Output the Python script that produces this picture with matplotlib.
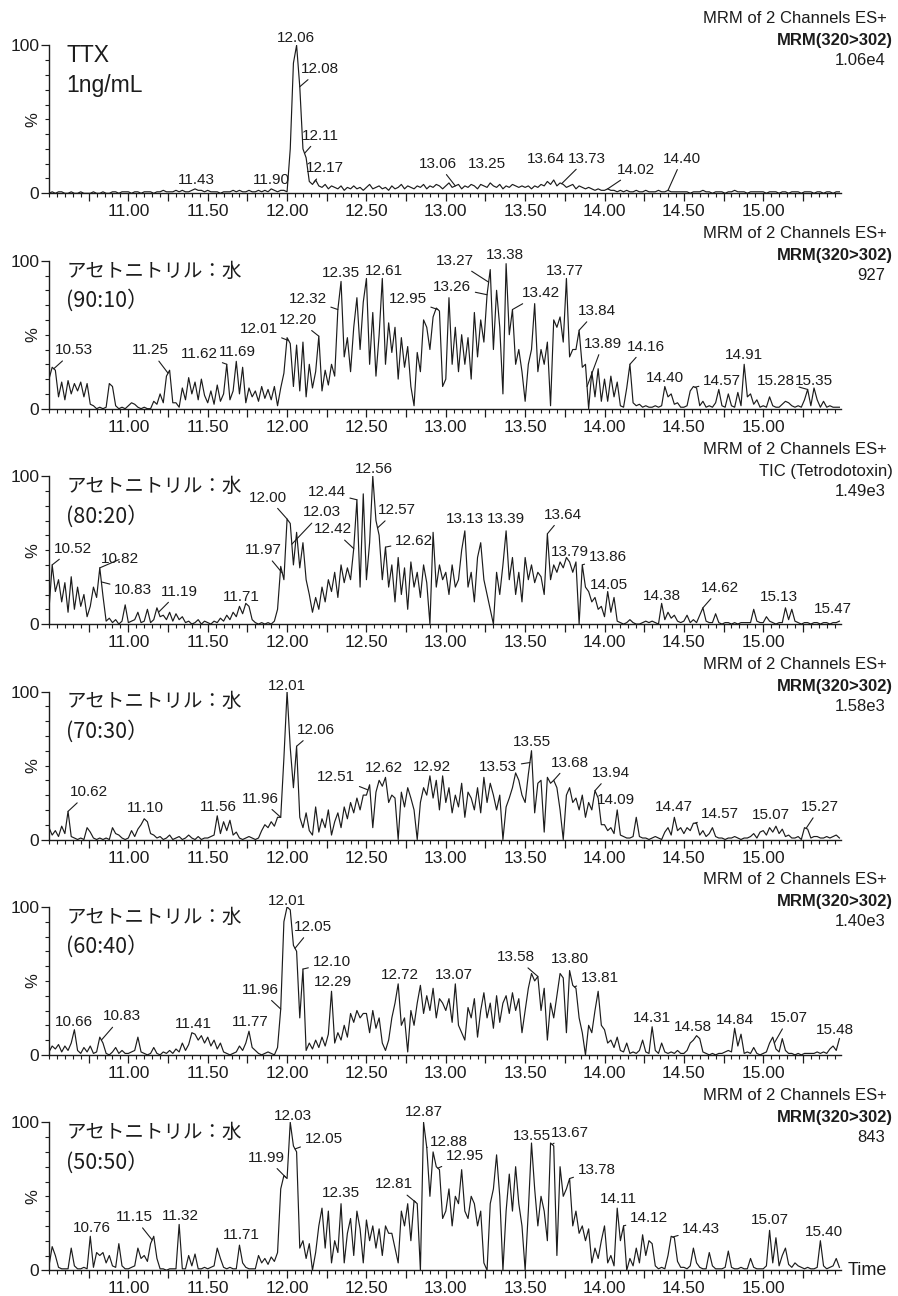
import numpy as np
import matplotlib.pyplot as plt
from matplotlib.ticker import MultipleLocator, FixedLocator, FuncFormatter

plt.rcParams['font.family'] = ['Liberation Sans', 'DejaVu Sans']
JP_FONT = ['Noto Sans CJK JP', 'DejaVu Sans']

T_START = 10.50
T_STEP = 0.02

# relative intensity (%), one sample every 0.02 min from 10.50, each row = 0.5 min
trace_ttx = [
    [0, 1, 0, 1, 1, 0, 0, 1, 0, 0, 1, 0, 0, 0, 1, 0, 0, 1, 0, 0, 1, 1, 0, 1, 1],
    [1, 0, 1, 1, 0, 1, 1, 1, 0, 1, 1, 2, 1, 1, 1, 2, 1, 2, 1, 1, 2, 3, 2, 2, 1],
    [2, 1, 1, 1, 0, 1, 1, 1, 2, 1, 2, 1, 1, 2, 1, 1, 2, 1, 2, 1, 3, 2, 1, 2, 2],
    [1, 30, 88, 100, 72, 30, 24, 8, 6, 9, 5, 4, 6, 3, 5, 4, 3, 5, 2, 4, 3, 5, 3, 4, 2],
    [4, 6, 3, 4, 5, 3, 4, 2, 5, 3, 4, 6, 3, 5, 4, 3, 5, 4, 6, 3, 5, 4, 6, 5, 3],
    [5, 7, 4, 5, 6, 3, 5, 4, 6, 5, 3, 6, 5, 4, 7, 5, 4, 6, 3, 5, 4, 6, 5, 4, 5],
    [4, 5, 3, 5, 4, 6, 5, 8, 6, 9, 5, 7, 6, 4, 5, 6, 3, 5, 4, 3, 4, 3, 2, 3, 2],
    [2, 3, 2, 2, 1, 2, 1, 2, 1, 1, 2, 1, 1, 2, 1, 1, 1, 2, 1, 1, 2, 1, 1, 1, 1],
    [1, 1, 0, 1, 1, 1, 2, 1, 1, 0, 1, 1, 1, 0, 1, 1, 2, 1, 1, 1, 0, 1, 1, 1, 1],
    [1, 0, 1, 1, 1, 0, 1, 1, 0, 1, 1, 1, 0, 1, 1, 1, 0, 1, 1, 0, 1, 1, 0, 1, 1],
]
trace_90_10 = [
    [20, 28, 26, 8, 18, 6, 19, 10, 17, 12, 18, 8, 17, 3, 2, 0, 1, 0, 1, 17, 15, 2, 0, 1, 0],
    [2, 4, 3, 1, 0, 1, 0, 0, 5, 3, 10, 4, 22, 26, 4, 4, 1, 14, 6, 21, 10, 18, 6, 20, 9],
    [4, 12, 3, 16, 5, 10, 30, 6, 12, 32, 10, 28, 4, 14, 8, 12, 5, 15, 7, 13, 6, 15, 2, 14, 24],
    [48, 44, 15, 43, 12, 45, 8, 30, 14, 25, 49, 12, 26, 16, 30, 22, 67, 86, 35, 48, 25, 55, 75, 40, 72],
    [88, 30, 65, 22, 50, 88, 30, 58, 38, 55, 20, 48, 28, 42, 15, 2, 38, 25, 60, 55, 40, 62, 68, 66, 15],
    [20, 75, 30, 55, 25, 50, 30, 48, 20, 65, 35, 60, 45, 77, 94, 40, 80, 55, 10, 98, 50, 67, 30, 40, 25],
    [5, 30, 40, 71, 25, 40, 30, 45, 2, 60, 55, 62, 45, 88, 35, 40, 40, 53, 28, 30, 0, 25, 8, 27, 5],
    [20, 5, 22, 8, 18, 2, 1, 14, 30, 4, 2, 3, 1, 2, 1, 1, 2, 1, 2, 15, 8, 10, 3, 4, 1],
    [1, 2, 12, 15, 14, 2, 5, 1, 2, 1, 4, 13, 2, 1, 10, 2, 1, 11, 2, 30, 8, 10, 3, 6, 1],
    [2, 1, 8, 2, 1, 1, 3, 5, 4, 2, 1, 2, 1, 6, 13, 2, 14, 6, 1, 5, 1, 2, 1, 1, 1],
]
trace_80_20 = [
    [10, 40, 22, 30, 15, 28, 8, 32, 10, 25, 12, 20, 5, 12, 25, 18, 38, 19, 2, 4, 1, 3, 0, 2, 13],
    [1, 2, 3, 8, 1, 2, 10, 1, 3, 11, 5, 6, 3, 8, 2, 7, 3, 5, 1, 2, 0, 1, 3, 0, 2],
    [1, 0, 2, 1, 4, 2, 6, 3, 8, 5, 12, 7, 14, 12, 3, 1, 0, 1, 0, 1, 0, 2, 10, 39, 30],
    [71, 68, 40, 62, 38, 55, 30, 20, 8, 18, 10, 25, 15, 30, 22, 35, 18, 40, 28, 38, 30, 51, 84, 25, 88],
    [30, 55, 100, 70, 60, 30, 52, 25, 40, 15, 45, 20, 38, 10, 42, 25, 35, 18, 40, 28, 0, 62, 25, 40, 30],
    [35, 20, 40, 25, 30, 50, 63, 25, 35, 15, 45, 55, 30, 20, 10, 0, 35, 20, 40, 63, 30, 45, 20, 35, 15],
    [45, 30, 40, 28, 35, 32, 20, 61, 30, 40, 35, 42, 38, 45, 42, 35, 42, 0, 40, 25, 22, 15, 18, 10, 12],
    [5, 22, 8, 18, 2, 1, 0, 1, 3, 1, 0, 0, 1, 2, 1, 2, 1, 0, 14, 3, 8, 4, 6, 2, 1],
    [2, 6, 1, 3, 1, 6, 11, 2, 1, 1, 7, 1, 0, 1, 1, 0, 1, 0, 1, 1, 1, 1, 10, 2, 1],
    [1, 5, 2, 1, 0, 1, 1, 11, 3, 10, 2, 1, 0, 1, 1, 0, 1, 1, 0, 1, 1, 0, 1, 1, 2],
]
trace_70_30 = [
    [8, 3, 6, 2, 9, 4, 19, 2, 1, 0, 1, 0, 8, 5, 1, 0, 1, 0, 1, 0, 8, 4, 3, 1, 0],
    [1, 6, 2, 7, 10, 14, 12, 4, 3, 1, 2, 0, 1, 3, 0, 1, 2, 0, 1, 3, 1, 0, 2, 0, 1],
    [1, 2, 3, 16, 4, 12, 6, 13, 3, 5, 1, 0, 1, 2, 1, 0, 1, 6, 10, 8, 12, 9, 15, 15, 55],
    [100, 62, 35, 63, 15, 8, 18, 6, 3, 22, 5, 14, 8, 20, 3, 12, 18, 8, 22, 14, 25, 18, 28, 20, 30],
    [30, 37, 8, 32, 40, 36, 42, 25, 30, 28, 0, 32, 22, 35, 28, 20, 0, 25, 35, 30, 43, 28, 40, 20, 43],
    [25, 35, 18, 30, 22, 38, 15, 32, 28, 20, 35, 18, 42, 25, 38, 30, 20, 30, 0, 22, 28, 35, 45, 40, 30],
    [25, 44, 60, 18, 38, 40, 5, 42, 38, 40, 35, 20, 0, 30, 35, 25, 28, 20, 30, 15, 25, 20, 33, 28, 10],
    [10, 6, 8, 4, 20, 3, 2, 1, 1, 2, 15, 2, 1, 1, 0, 1, 2, 1, 0, 5, 8, 3, 15, 6, 8],
    [4, 8, 6, 11, 11, 3, 6, 2, 4, 8, 2, 1, 1, 0, 1, 1, 2, 1, 0, 1, 1, 2, 4, 1, 5],
    [6, 3, 8, 5, 9, 4, 7, 2, 3, 1, 1, 2, 0, 8, 7, 1, 2, 2, 1, 1, 2, 1, 2, 3, 1],
]
trace_60_40 = [
    [2, 6, 4, 7, 2, 6, 3, 8, 17, 3, 1, 5, 2, 6, 1, 2, 12, 8, 1, 0, 2, 5, 1, 3, 1],
    [1, 2, 3, 12, 2, 1, 0, 1, 5, 1, 0, 2, 1, 3, 1, 4, 2, 8, 3, 7, 15, 14, 10, 13, 8],
    [12, 6, 10, 4, 8, 2, 1, 0, 1, 2, 6, 3, 8, 16, 5, 3, 1, 0, 1, 2, 1, 0, 5, 31, 90],
    [100, 98, 74, 70, 25, 58, 3, 8, 4, 10, 5, 12, 6, 14, 43, 8, 15, 10, 20, 12, 28, 22, 30, 25, 28],
    [28, 15, 30, 18, 25, 8, 3, 10, 25, 35, 48, 20, 25, 2, 30, 20, 35, 47, 28, 40, 30, 45, 25, 38, 35],
    [30, 38, 22, 48, 20, 15, 10, 32, 25, 38, 12, 30, 42, 25, 35, 18, 40, 22, 35, 40, 28, 42, 30, 38, 15],
    [30, 45, 55, 50, 53, 30, 45, 10, 35, 25, 40, 55, 52, 15, 57, 47, 45, 25, 15, 0, 20, 15, 30, 43, 20],
    [17, 8, 10, 5, 12, 3, 2, 8, 1, 2, 1, 3, 10, 2, 1, 19, 3, 1, 8, 2, 1, 2, 1, 3, 1],
    [1, 3, 8, 10, 13, 11, 2, 1, 0, 1, 0, 1, 1, 2, 3, 2, 18, 6, 14, 1, 2, 1, 5, 1, 0],
    [1, 2, 8, 12, 4, 2, 11, 3, 1, 1, 0, 1, 0, 1, 1, 1, 1, 2, 1, 2, 1, 4, 6, 3, 11],
]
trace_50_50 = [
    [3, 16, 10, 2, 1, 1, 1, 15, 3, 1, 1, 2, 1, 23, 2, 12, 10, 12, 5, 10, 3, 2, 18, 3, 1],
    [1, 2, 3, 15, 8, 10, 6, 18, 23, 8, 1, 1, 0, 1, 1, 1, 31, 1, 1, 10, 3, 11, 1, 1, 2],
    [1, 2, 3, 15, 8, 2, 1, 2, 1, 1, 17, 5, 2, 1, 1, 1, 10, 5, 8, 4, 9, 6, 12, 55, 64],
    [62, 100, 84, 80, 15, 20, 8, 18, 0, 12, 30, 42, 15, 40, 5, 20, 12, 45, 5, 25, 35, 10, 40, 28, 5],
    [34, 20, 30, 15, 28, 10, 30, 25, 25, 15, 5, 40, 30, 45, 20, 47, 45, 0, 100, 83, 50, 80, 70, 68, 35],
    [40, 55, 30, 50, 45, 68, 40, 35, 50, 45, 30, 40, 5, 0, 45, 55, 78, 50, 0, 40, 65, 40, 70, 45, 30],
    [0, 40, 86, 55, 30, 50, 40, 20, 86, 84, 10, 70, 50, 55, 62, 30, 40, 25, 30, 20, 28, 5, 15, 8, 20],
    [30, 5, 10, 3, 42, 20, 30, 0, 8, 3, 15, 5, 24, 10, 20, 18, 3, 1, 2, 1, 10, 23, 22, 6, 2],
    [2, 1, 3, 15, 5, 2, 1, 1, 12, 3, 1, 1, 1, 2, 13, 2, 1, 1, 2, 1, 1, 8, 2, 1, 1],
    [1, 3, 27, 5, 22, 3, 10, 15, 4, 2, 5, 3, 2, 1, 2, 1, 1, 2, 20, 3, 1, 2, 3, 8, 2],
]

sample_line1 = ['TTX'] + ['アセトニトリル：水'] * 5
sample_line2 = ['1ng/mL', '(90:10）', '(80:20）', '(70:30）', '(60:40）', '(50:50）']
channels = ['MRM(320>302)', 'MRM(320>302)', 'TIC (Tetrodotoxin)',
            'MRM(320>302)', 'MRM(320>302)', 'MRM(320>302)']
scales = ['1.06e4', '927', '1.49e3', '1.58e3', '1.40e3', '843']

# labelled retention times
peaks_ttx = [11.43, 11.90, 12.06, 12.08, 12.11, 12.17, 13.06, 13.25, 13.64, 13.73, 14.02, 14.40]
peaks_90_10 = [10.53, 11.25, 11.62, 11.69, 12.01, 12.20, 12.32, 12.35, 12.61, 12.95, 13.26, 13.27,
               13.38, 13.42, 13.77, 13.84, 13.89, 14.16, 14.40, 14.57, 14.91, 15.28, 15.35]
peaks_80_20 = [10.52, 10.82, 10.83, 11.19, 11.71, 11.97, 12.00, 12.03, 12.42, 12.44, 12.56, 12.57,
               12.62, 13.13, 13.39, 13.64, 13.79, 13.86, 14.05, 14.38, 14.62, 15.13, 15.47]
peaks_70_30 = [10.62, 11.10, 11.56, 11.96, 12.01, 12.06, 12.51, 12.62, 12.92, 13.53, 13.55, 13.68,
               13.94, 14.09, 14.47, 14.57, 15.07, 15.27]
peaks_60_40 = [10.66, 10.83, 11.41, 11.77, 11.96, 12.01, 12.05, 12.10, 12.29, 12.72, 13.07, 13.58,
               13.80, 13.81, 14.31, 14.58, 14.84, 15.07, 15.48]
peaks_50_50 = [10.76, 11.15, 11.32, 11.71, 11.99, 12.03, 12.05, 12.35, 12.81, 12.87, 12.88, 12.95,
               13.55, 13.67, 13.78, 14.11, 14.12, 14.43, 15.07, 15.40]

# label placement: (text x, text y %, leader line)
place_ttx = [(11.43, 9, 0), (11.90, 9, 0), (12.056, 105, 0), (12.21, 84, 1), (12.21, 39, 1),
             (12.24, 17, 1), (12.95, 20, 1), (13.26, 20, 0), (13.63, 23.5, 0), (13.89, 23.5, 1),
             (14.20, 16, 1), (14.49, 23.5, 1)]
place_90_10 = [(10.66, 39.5, 1), (11.14, 39.5, 1), (11.45, 36.7, 1), (11.69, 38, 0), (11.82, 54, 1),
               (12.07, 60, 1), (12.13, 74, 1), (12.34, 92, 0), (12.61, 93, 0), (12.76, 74, 1),
               (13.04, 82, 1), (13.06, 100, 1), (13.37, 104, 0), (13.60, 78, 1), (13.75, 93, 0),
               (13.95, 66, 1), (13.99, 44, 1), (14.26, 42, 1), (14.38, 21, 0), (14.74, 19, 1),
               (14.88, 36, 0), (15.08, 19, 1), (15.32, 19, 0)]
place_80_20 = [(10.65, 51, 1), (10.95, 44, 1), (11.03, 23, 1), (11.32, 22, 1), (11.71, 18, 0),
               (11.85, 50, 1), (11.88, 85.5, 1), (12.22, 75.5, 1), (12.29, 64, 1), (12.25, 89, 1),
               (12.55, 105, 0), (12.69, 77, 1), (12.80, 56, 1), (13.12, 71, 0), (13.38, 71, 0),
               (13.74, 74, 1), (13.78, 49, 0), (14.02, 45.5, 1), (14.03, 26.5, 0), (14.36, 19, 0),
               (14.73, 24.5, 1), (15.10, 18, 0), (15.44, 10, 0)]
place_70_30 = [(10.75, 32, 1), (11.11, 21, 0), (11.57, 22, 0), (11.83, 27.5, 1), (12.00, 104, 0),
               (12.18, 74, 1), (12.31, 42, 1), (12.61, 48, 0), (12.91, 48.7, 0), (13.33, 48.7, 1),
               (13.54, 66, 0), (13.78, 52, 1), (14.04, 45, 1), (14.07, 27, 0), (14.44, 22, 0),
               (14.73, 17.5, 1), (15.05, 16.5, 0), (15.36, 22, 1)]
place_60_40 = [(10.66, 22.5, 0), (10.96, 26, 1), (11.41, 21, 0), (11.77, 22, 0), (11.83, 44, 1),
               (12.00, 104, 0), (12.16, 86.5, 1), (12.28, 62.5, 1), (12.29, 49, 0), (12.71, 54, 0),
               (13.05, 54, 0), (13.44, 66, 1), (13.78, 64.5, 0), (13.97, 52, 1), (14.30, 25, 0),
               (14.56, 19, 0), (14.82, 23.5, 0), (15.16, 25, 1), (15.45, 17, 0)]
place_50_50 = [(10.77, 28.4, 0), (11.035, 36, 1), (11.33, 36.5, 0), (11.71, 24, 0), (11.87, 76, 1),
               (12.035, 104, 0), (12.23, 89, 1), (12.34, 52, 0), (12.675, 58, 1), (12.86, 107, 0),
               (13.02, 87, 1), (13.12, 77, 1), (13.54, 91, 0), (13.78, 93, 1), (13.95, 68, 1),
               (14.09, 48, 0), (14.28, 35, 1), (14.61, 28, 1), (15.04, 34, 0), (15.38, 26, 0)]

traces = [trace_ttx, trace_90_10, trace_80_20, trace_70_30, trace_60_40, trace_50_50]
peaks = [peaks_ttx, peaks_90_10, peaks_80_20, peaks_70_30, peaks_60_40, peaks_50_50]
places = [place_ttx, place_90_10, place_80_20, place_70_30, place_60_40, place_50_50]

INK = '#1c1c1c'
W, H = 898, 1296

fig = plt.figure(figsize=(W / 100, H / 100), dpi=100)

for k in range(6):
    y_base = 193.3 + 215.4 * k
    ax = fig.add_axes([49 / W, 1 - y_base / H, 792 / W, 148 / H])

    y = np.array(traces[k], dtype=float).ravel()
    t = T_START + T_STEP * np.arange(y.size)
    ax.plot(t, y, color=INK, lw=0.85)

    ax.set_xlim(10.50, 15.49)
    ax.set_ylim(0, 100)
    for side in ['top', 'right']:
        ax.spines[side].set_visible(False)
    for side in ['left', 'bottom']:
        ax.spines[side].set_color(INK)
        ax.spines[side].set_linewidth(1.0)

    ax.xaxis.set_major_locator(FixedLocator(np.arange(10.75, 15.49, 0.25)))
    ax.xaxis.set_minor_locator(MultipleLocator(0.05))
    ax.xaxis.set_major_formatter(FuncFormatter(
        lambda v, p: f'{v:.2f}' if abs(v * 2 - round(v * 2)) < 1e-6 else ''))
    ax.yaxis.set_major_locator(FixedLocator([0, 100]))
    ax.yaxis.set_minor_locator(MultipleLocator(10))
    ax.tick_params(axis='x', which='major', length=6, width=0.9, pad=2,
                   labelsize=12.5, colors=INK)
    ax.tick_params(axis='x', which='minor', length=3, width=0.8, colors=INK)
    ax.tick_params(axis='y', which='major', length=6, width=0.9, pad=1,
                   labelsize=12.5, colors=INK)
    ax.tick_params(axis='y', which='minor', length=3, width=0.8, colors=INK)

    ax.text(-0.02, 0.5, '%', rotation=90, transform=ax.transAxes,
            ha='center', va='center', fontsize=12, color=INK)

    # sample description
    if k == 0:
        fam, fs1, fs2 = ['Liberation Sans', 'DejaVu Sans'], 16.5, 16.5
    else:
        fam, fs1, fs2 = JP_FONT, 14, 15.5
    ax.text(0.022, 0.93, sample_line1[k], transform=ax.transAxes, ha='left', va='center',
            fontsize=fs1, family=fam, color=INK)
    ax.text(0.022, 0.73, sample_line2[k], transform=ax.transAxes, ha='left', va='center',
            fontsize=fs2, family=fam, color=INK)

    # instrument header
    ax.text(1.058, 1.182, 'MRM of 2 Channels ES+', transform=ax.transAxes,
            ha='right', va='center', fontsize=12, color=INK)
    ax.text(1.066, 1.034, channels[k], transform=ax.transAxes, ha='right', va='center',
            fontsize=12, color=INK, fontweight='normal' if 'TIC' in channels[k] else 'bold')
    ax.text(1.056, 0.899, scales[k], transform=ax.transAxes,
            ha='right', va='center', fontsize=12, color=INK)

    # peak labels
    for rt, (tx, ty, lead) in zip(peaks[k], places[k]):
        label = f'{rt:.2f}'
        if lead:
            ax.annotate(label, xy=(rt, np.interp(rt, t, y)), xytext=(tx, ty),
                        ha='center', va='center', fontsize=11, color=INK,
                        annotation_clip=False,
                        arrowprops=dict(arrowstyle='-', color=INK, lw=0.8,
                                        shrinkA=1, shrinkB=0))
        else:
            ax.text(tx, ty, label, ha='center', va='center', fontsize=11, color=INK)

    if k == 5:
        ax.text(1.008, 0.0, 'Time', transform=ax.transAxes, ha='left', va='center',
                fontsize=13, color=INK)

fig.savefig('out.png', dpi=100, facecolor='white')
